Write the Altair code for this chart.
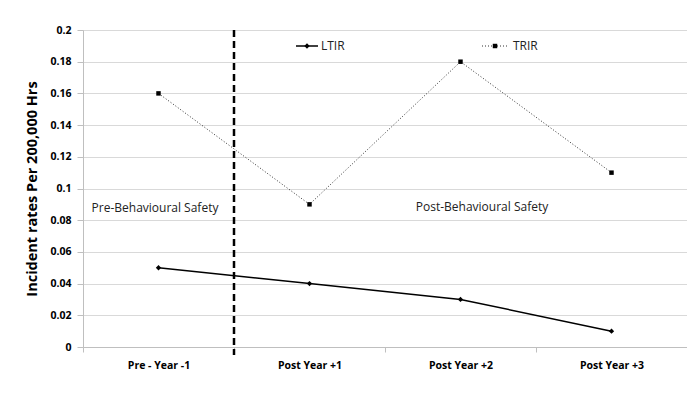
import altair as alt
import pandas as pd

categories = ["Pre - Year -1", "Post Year +1", "Post Year +2", "Post Year +3"]
ltir = [0.05, 0.04, 0.03, 0.01]
trir = [0.16, 0.09, 0.18, 0.11]
y_ticks = [0, 0.02, 0.04, 0.06, 0.08, 0.1, 0.12, 0.14, 0.16, 0.18, 0.2]

df = pd.DataFrame({
    "cat": categories * 2,
    "value": ltir + trir,
    "series": ["LTIR"] * 4 + ["TRIR"] * 4,
})
ltir_df = df[df.series == "LTIR"]
trir_df = df[df.series == "TRIR"]

FONT = "Open Sans"
W, H = 604, 317

xscale = alt.Scale(type="band", domain=categories, paddingInner=0, paddingOuter=0)
yscale = alt.Scale(domain=[0, 0.2], nice=False)

X = alt.X("cat:N", scale=xscale, bandPosition=0.5, sort=categories,
          axis=alt.Axis(title=None, labelAngle=0, tickBand="extent", grid=False,
                        labelFont=FONT, labelFontSize=10.5, labelFontWeight="bold",
                        labelColor="#000", domainColor="#bfbfbf", tickColor="#bfbfbf",
                        tickSize=5, labelPadding=8))
yaxis = alt.Axis(title="Incident rates Per 200,000 Hrs", values=y_ticks,
                 format="~g", grid=True, gridColor="#d9d9d9", labelOverlap=False,
                 domain=True, domainColor="#bfbfbf", ticks=True, tickColor="#bfbfbf", tickSize=6,
                 labelFont=FONT, labelFontSize=10.5, labelFontWeight="bold",
                 labelColor="#000", labelPadding=6,
                 titleFont=FONT, titleFontSize=14.5, titleFontWeight="bold",
                 titleColor="#000", titlePadding=10)
Y = alt.Y("value:Q", scale=yscale, axis=yaxis)

ltir_line = alt.Chart(ltir_df).mark_line(color="black", strokeWidth=1.5).encode(x=X, y=Y)
ltir_pts = alt.Chart(ltir_df).mark_point(shape="diamond", filled=True, color="black", size=28, opacity=1).encode(x=X, y=Y)
trir_line = alt.Chart(trir_df).mark_line(color="#333", strokeWidth=1, strokeDash=[1, 2]).encode(x=X, y=Y)
trir_pts = alt.Chart(trir_df).mark_point(shape="square", filled=True, color="black", size=20, opacity=1).encode(x=X, y=Y)

divider_df = pd.DataFrame({"cat": ["Post Year +1"]})
divider = alt.Chart(divider_df).mark_rule(color="black", strokeWidth=2.5, strokeDash=[7, 4]).encode(
    x=alt.X("cat:N", scale=xscale, bandPosition=0, sort=categories),
    y=alt.value(0), y2=alt.value(H + 8))

ann_df = pd.DataFrame({"label": ["Pre-Behavioural Safety", "Post-Behavioural Safety"],
                       "px": [72, 399], "value": [0.088, 0.0885]})
ann = alt.Chart(ann_df).mark_text(font=FONT, fontSize=12, color="#222", align="center").encode(
    x=alt.X("px:Q", scale=None), y=Y, text="label:N")

leg_df = pd.DataFrame({"k": [0]})
leg_l_line = alt.Chart(leg_df).mark_rule(color="black", strokeWidth=1.5).encode(
    x=alt.value(213), x2=alt.value(235), y=alt.value(16))
leg_l_pt = alt.Chart(leg_df).mark_point(shape="diamond", filled=True, color="black", size=28, opacity=1).encode(
    x=alt.value(224), y=alt.value(16))
leg_l_txt = alt.Chart(leg_df).mark_text(text="LTIR", font=FONT, fontSize=12, align="left", baseline="middle", color="#222").encode(
    x=alt.value(238), y=alt.value(16))
leg_t_line = alt.Chart(leg_df).mark_rule(color="#333", strokeWidth=1, strokeDash=[1, 2]).encode(
    x=alt.value(399), x2=alt.value(426), y=alt.value(16))
leg_t_pt = alt.Chart(leg_df).mark_point(shape="square", filled=True, color="black", size=20, opacity=1).encode(
    x=alt.value(412), y=alt.value(16))
leg_t_txt = alt.Chart(leg_df).mark_text(text="TRIR", font=FONT, fontSize=12, align="left", baseline="middle", color="#222").encode(
    x=alt.value(430), y=alt.value(16))

chart = alt.layer(
    trir_line, trir_pts, ltir_line, ltir_pts, divider, ann,
    leg_l_line, leg_l_pt, leg_l_txt, leg_t_line, leg_t_pt, leg_t_txt
).properties(
    width=W, height=H,
    autosize=alt.AutoSizeParams(type="none"),
    padding={"left": 75, "top": 22, "right": 0, "bottom": 50},
).configure_view(stroke=None).configure(background="white")

chart.save("out.html", embed_options={"renderer": "svg", "actions": False})
